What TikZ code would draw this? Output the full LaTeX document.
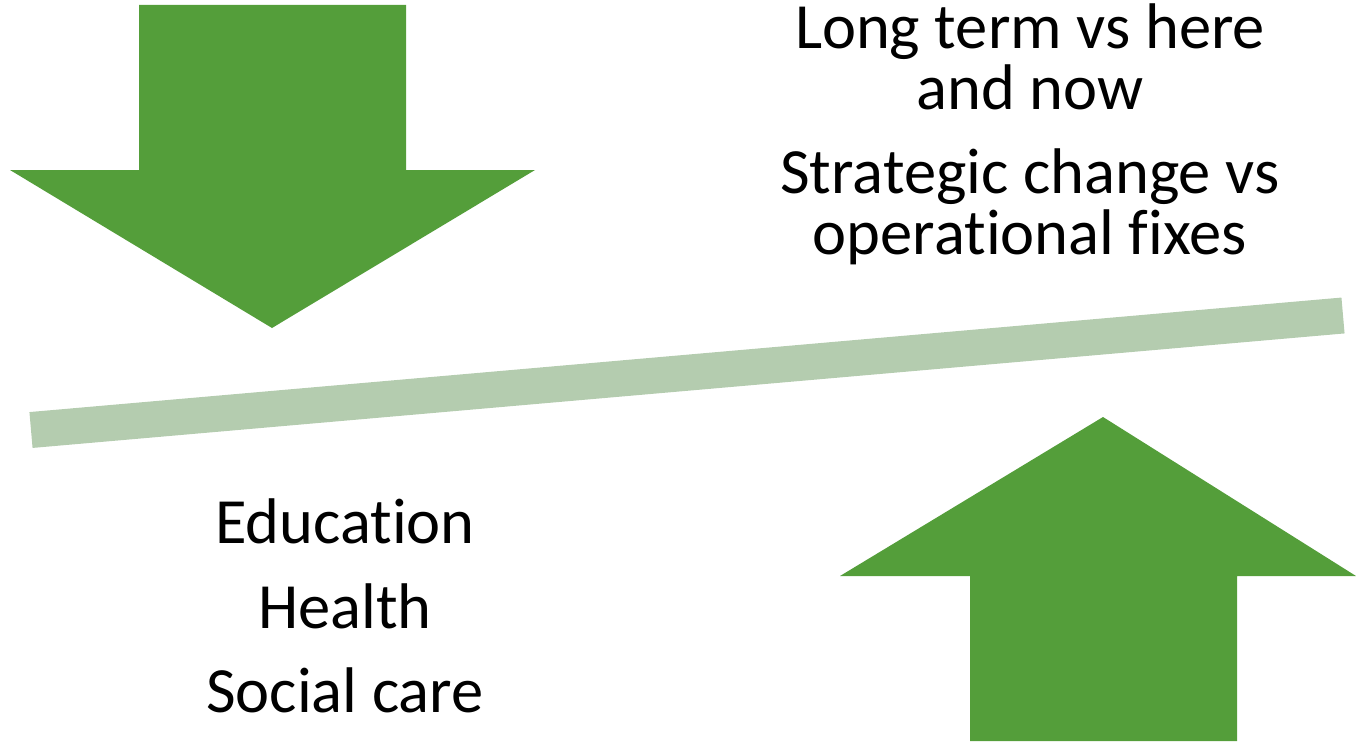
\documentclass[tikz,border=0pt]{standalone}
\usepackage{fontspec}
\setmainfont[Ligatures={NoCommon}]{Carlito}
\definecolor{arrowgreen}{RGB}{84,158,58}
\definecolor{bargreen}{RGB}{180,204,175}
\tikzset{
  bigarrow/.style={fill=arrowgreen, draw=none},
  balance/.style={draw=bargreen, line width=36pt},
  label/.style={anchor=base, inner sep=0pt, align=center, text=black,
    font=\fontsize{64.5}{61}\selectfont}
}
\begin{document}
\begin{tikzpicture}[x=1pt,y=-1pt]
\useasboundingbox (0,0) rectangle (1356,741);
% down arrow
\fill[bigarrow] (139,5) -- (406,5) -- (406,170) -- (535,170) -- (272,328) -- (10,170) -- (139,170) -- cycle;
% up arrow
\fill[bigarrow] (1103,417) -- (1356,576) -- (1237,576) -- (1237,741) -- (970,741) -- (970,576) -- (840,576) -- cycle;
% balance bar
\coordinate (barL) at (31,430);
\coordinate (barR) at (1343,315.5);
\draw[balance] (barL) -- (barR);
% texts
\node[label] (t1) at (1030,110) {Long term vs here\\and now};
\node[label] (t3) at (1030,254) {Strategic change vs\\operational fixes};
\node[label] (b1) at (345,543) {Education};
\node[label] (b2) at (345,628) {Health};
\node[label] (b3) at (345,712) {Social care};
\end{tikzpicture}
\end{document}
